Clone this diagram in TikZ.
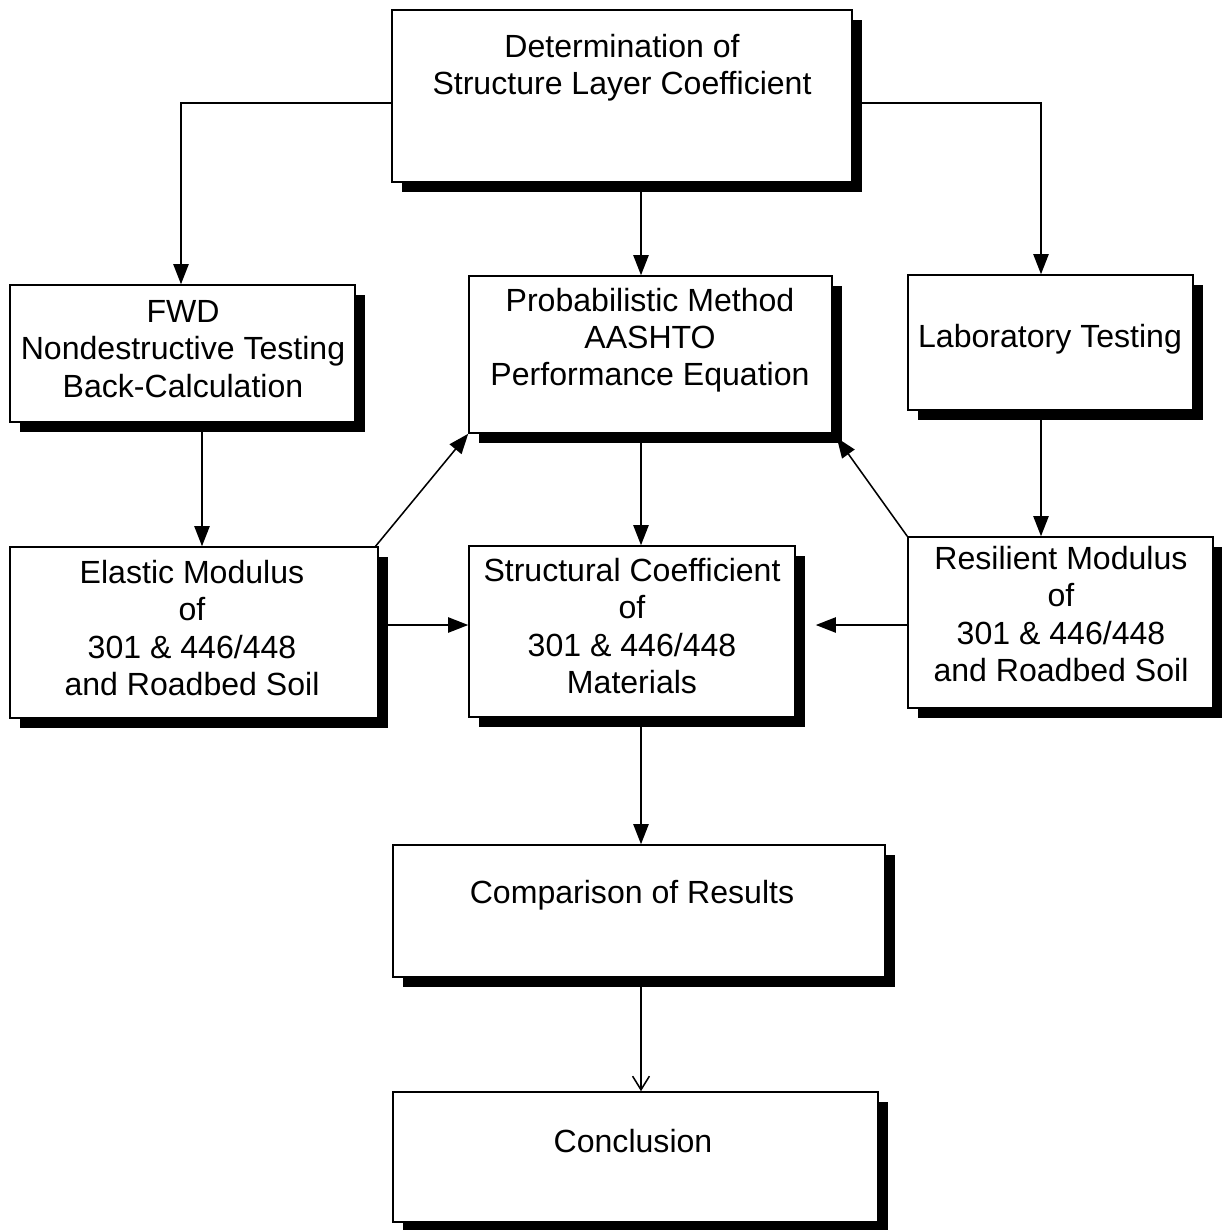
\documentclass[tikz,border=0pt]{standalone}
\usepackage{fontspec}
\setmainfont{Liberation Sans}
\usetikzlibrary{arrows.meta, fit, shadows}

\begin{document}
\begin{tikzpicture}[
    x=0.025cm, y=-0.025cm,
    % Node styles
    box/.style={
        rectangle,
        draw=black,
        line width=1.1pt,
        fill=white,
        inner sep=0pt,
        drop shadow={shadow xshift=0.24cm, shadow yshift=-0.24cm, fill=black, opacity=1}
    },
    boxtext/.style={
        align=center,
        font=\fontsize{22.8}{26.5}\selectfont,
        inner sep=0pt
    },
    arrow/.style={
        -{Triangle[length=0.5cm, width=0.38cm]},
        line width=1.1pt
    },
    openarrow/.style={
        -{Straight Barb[length=0.34cm, width=0.42cm]},
        line width=1.1pt
    }
]
\useasboundingbox[fill=white] (0,0) rectangle (1222,1230);

% Guide coordinates for the vertical connectors
\coordinate (leftx) at (202,0);
\coordinate (midx) at (641,0);
\coordinate (rightx) at (1041,0);
\coordinate (midy) at (0,625);

% Boxes
\node[box, fit={(392,10) (852,182)}] (det) {};
\node[box, fit={(10,285) (355,422)}] (fwd) {};
\node[box, fit={(469,276) (832,433)}] (prob) {};
\node[box, fit={(908,275) (1193,410)}] (lab) {};
\node[box, fit={(10,547) (378,718)}] (elastic) {};
\node[box, fit={(469,546) (795,717)}] (struct) {};
\node[box, fit={(908,537) (1213,708)}] (resil) {};
\node[box, fit={(393,845) (885,977)}] (comp) {};
\node[box, fit={(393,1092) (878,1222)}] (concl) {};

% Box texts
\node[boxtext] (dettext) at (622,68) {Determination of\\Structure Layer Coefficient};
\node[boxtext] (fwdtext) at (183,349) {FWD\\Nondestructive Testing\\Back-Calculation};
\node[boxtext] (probtext) at (650,340) {Probabilistic Method\\AASHTO\\Performance Equation};
\node[boxtext] (labtext) at (1050,339) {Laboratory Testing};
\node[boxtext] (elastictext) at (192,628) {Elastic Modulus\\of\\301 \& 446/448\\and Roadbed Soil};
\node[boxtext] (structtext) at (632,626) {Structural Coefficient\\of\\301 \& 446/448\\Materials};
\node[boxtext] (resiltext) at (1061,614) {Resilient Modulus\\of\\301 \& 446/448\\and Roadbed Soil};
\node[boxtext] (comptext) at (632,895) {Comparison of Results};
\node[boxtext] (concltext) at (633,1141) {Conclusion};

% Arrows
\draw[arrow] ([yshift=-0.18cm]det.west) -| (fwd.north -| 181,0);
\draw[arrow] ([yshift=-0.18cm]det.east) -| (lab.north -| rightx);
\draw[arrow] (det.south -| midx) -- (prob.north -| midx);
\draw[arrow] (fwd.south -| leftx) -- (elastic.north -| leftx);
\draw[arrow] (lab.south -| rightx) -- (resil.north -| rightx);
\draw[arrow] (prob.south -| midx) -- (struct.north -| midx);
\draw[arrow] ([xshift=-0.08cm]elastic.north east) -- (prob.south west);
\draw[arrow] (resil.north west) -- ([xshift=0.1cm,yshift=-0.1cm]prob.south east);
\draw[arrow] (elastic.east |- midy) -- (struct.west |- midy);
\draw[arrow, shorten >=0.5cm] (resil.west |- midy) -- (struct.east |- midy);
\draw[arrow] (struct.south -| midx) -- (comp.north -| midx);
\draw[openarrow] (comp.south -| midx) -- (concl.north -| midx);

\end{tikzpicture}
\end{document}
